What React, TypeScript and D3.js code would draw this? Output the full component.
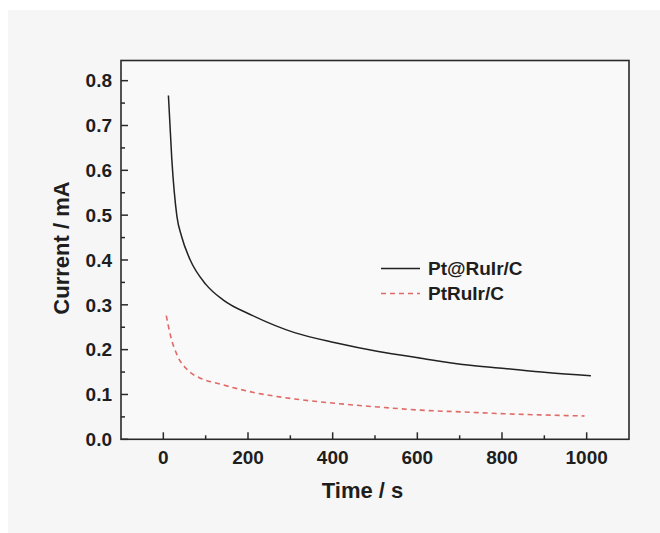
import React from "react";
import * as d3 from "d3";

const ptRuIrAtTime = [12, 20, 32, 43, 63, 101, 141, 211, 310, 409, 508, 608, 707, 806, 906, 1010];
const ptRuIrAtCurrent = [0.767, 0.625, 0.498, 0.453, 0.401, 0.345, 0.311, 0.276, 0.238, 0.215, 0.196, 0.181, 0.167, 0.158, 0.149, 0.142];
const ptRuIrTime = [7, 17, 32, 57, 91, 131, 211, 310, 409, 508, 608, 707, 806, 995];
const ptRuIrCurrent = [0.276, 0.231, 0.189, 0.155, 0.135, 0.124, 0.105, 0.09, 0.08, 0.072, 0.065, 0.061, 0.057, 0.052];
const xTicks = [0, 200, 400, 600, 800, 1000];
const xMinorTicks = [100, 300, 500, 700, 900];
const yTicks = [0, 0.1, 0.2, 0.3, 0.4, 0.5, 0.6, 0.7, 0.8];
const yMinorTicks = [0.05, 0.15, 0.25, 0.35, 0.45, 0.55, 0.65, 0.75];
const seriesNames = ["Pt@RuIr/C", "PtRuIr/C"];

const W = 660;
const H = 533;
const L = 121, R = 629, T = 60.5, B = 439.3;
const FONT = "'Liberation Sans', Arial, Helvetica, sans-serif";

export default function App() {
  const x = d3.scaleLinear().domain([-100, 1100]).range([L, R]);
  const y = d3.scaleLinear().domain([0, 0.845]).range([B, T]);
  const line = d3
    .line<[number, number]>()
    .x((d) => x(d[0]))
    .y((d) => y(d[1]))
    .curve(d3.curveMonotoneX);
  const s1 = ptRuIrAtTime.map((t, i) => [t, ptRuIrAtCurrent[i]] as [number, number]);
  const s2 = ptRuIrTime.map((t, i) => [t, ptRuIrCurrent[i]] as [number, number]);
  const textColor = "#1e1e1e";
  const axisColor = "#2a2a2a";
  const red = "#e06a66";
  const legX0 = 381, legX1 = 420, legY1 = 268.5, legY2 = 293.5;

  return (
    <svg
      width={W}
      height={H}
      style={{ position: "absolute", left: 0, top: 0, display: "block" }}
      fontFamily={FONT}
    >
      <rect x={0} y={0} width={W} height={H} fill="#ffffff" />
      <rect x={8} y={10} width={W - 8} height={H - 10} fill="#f6f6f6" />
      <rect x={L} y={T} width={R - L} height={B - T} fill="#f9f9f9" />

      {/* curves */}
      <path d={line(s1) || ""} fill="none" stroke="#222" strokeWidth={1.5} />
      <path d={line(s2) || ""} fill="none" stroke={red} strokeWidth={1.6} strokeDasharray="5,4" />

      {/* frame */}
      <rect x={L} y={T} width={R - L} height={B - T} fill="none" stroke={axisColor} strokeWidth={1.6} />

      {/* x ticks */}
      {xTicks.map((t) => (
        <g key={"xt" + t}>
          <line x1={x(t)} x2={x(t)} y1={B} y2={B - 7} stroke={axisColor} strokeWidth={1.5} />
          <text
            x={x(t)}
            y={463.5}
            textAnchor="middle"
            fontSize={19}
            fontWeight="bold"
            fill={textColor}
          >
            {t}
          </text>
        </g>
      ))}
      {xMinorTicks.map((t) => (
        <line key={"xm" + t} x1={x(t)} x2={x(t)} y1={B} y2={B - 4} stroke={axisColor} strokeWidth={1.5} />
      ))}

      {/* y ticks */}
      {yTicks.map((v) => (
        <g key={"yt" + v}>
          <line x1={L} x2={L + 7} y1={y(v)} y2={y(v)} stroke={axisColor} strokeWidth={1.5} />
          <text
            x={112}
            y={y(v) + 6.8}
            textAnchor="end"
            fontSize={19}
            fontWeight="bold"
            fill={textColor}
          >
            {v.toFixed(1)}
          </text>
        </g>
      ))}
      {yMinorTicks.map((v) => (
        <line key={"ym" + v} x1={L} x2={L + 4} y1={y(v)} y2={y(v)} stroke={axisColor} strokeWidth={1.5} />
      ))}

      {/* axis titles */}
      <text x={362.5} y={498.3} textAnchor="middle" fontSize={22} fontWeight="bold" fill={textColor}>
        Time / s
      </text>
      <text
        transform={`translate(69,248) rotate(-90)`}
        textAnchor="middle"
        fontSize={22}
        fontWeight="bold"
        fill={textColor}
      >
        Current / mA
      </text>

      {/* legend */}
      <line x1={legX0} x2={legX1} y1={legY1} y2={legY1} stroke="#222" strokeWidth={1.5} />
      <text x={428} y={legY1 + 6.5} fontSize={19} fontWeight="bold" fill={textColor}>
        {seriesNames[0]}
      </text>
      <line x1={legX0} x2={legX1} y1={legY2} y2={legY2} stroke={red} strokeWidth={1.6} strokeDasharray="5,4" />
      <text x={428} y={legY2 + 6.5} fontSize={19} fontWeight="bold" fill={textColor}>
        {seriesNames[1]}
      </text>
    </svg>
  );
}
